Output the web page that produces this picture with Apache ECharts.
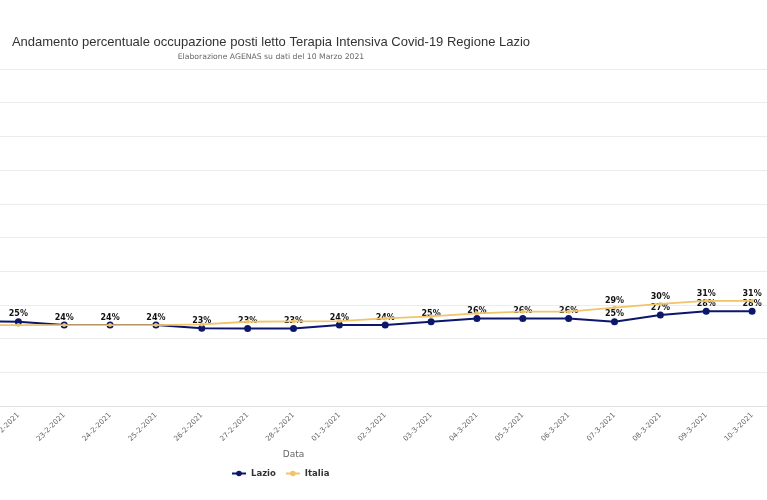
<!DOCTYPE html>
<html>
<head>
<meta charset="utf-8">
<script src="https://cdn.jsdelivr.net/npm/echarts@6/dist/echarts.min.js"></script>
<style>html,body{margin:0;padding:0;background:#fff}#c{width:767px;height:500px}</style>
</head>
<body>
<div id="c"></div>
<script>
const dates = ['18-2-2021','19-2-2021','20-2-2021','21-2-2021','22-2-2021','23-2-2021','24-2-2021','25-2-2021','26-2-2021','27-2-2021','28-2-2021','01-3-2021','02-3-2021','03-3-2021','04-3-2021','05-3-2021','06-3-2021','07-3-2021','08-3-2021','09-3-2021','10-3-2021'];
const lazio  = [26, 26, 25, 25.2, 25.0, 24.0, 24.0, 24.0, 23.1, 23.0, 23.0, 24.0, 24.0, 25.0, 26.0, 26.0, 26.0, 25.0, 27.0, 28.1, 28.1];
const italia = [24, 24, 24, 24.0, 24.0, 24.0, 24.0, 24.0, 24.2, 25.0, 25.1, 25.2, 26.0, 26.6, 27.5, 28.0, 28.0, 29.2, 30.3, 31.2, 31.2];
const yTicks = {min: 0, max: 100, interval: 10};
const titleText = 'Andamento percentuale occupazione posti letto Terapia Intensiva Covid-19 Regione Lazio';
const subText = 'Elaborazione AGENAS su dati del 10 Marzo 2021';

const FONT = 'DejaVu Sans';
const chart = echarts.init(document.getElementById('c'), null, {renderer: 'canvas'});
const italiaData = italia.map((v, i) => ({
  value: v,
  label: {show: (v - lazio[i]) >= 3}
}));
chart.setOption({
  animation: false,
  backgroundColor: '#fff',
  graphic: [{
    type: 'text', x: 271, y: 42,
    style: {text: titleText, textAlign: 'center', textVerticalAlign: 'middle',
      font: 'normal 13px "Liberation Sans"', fill: '#333'}
  }, {
    type: 'text', x: 271, y: 57,
    style: {text: subText, textAlign: 'center', textVerticalAlign: 'middle',
      font: 'normal 7.7px "DejaVu Sans"', fill: '#666'}
  }],
  legend: {
    bottom: 17, left: 226, itemGap: 9,
    textStyle: {fontFamily: FONT, fontSize: 8.5, fontWeight: 'bold', color: '#333'},
    itemWidth: 14, itemHeight: 7,
    data: ['Lazio', 'Italia']
  },
  grid: {left: -188, right: -8, top: 69, bottom: 94, containLabel: false, outerBoundsMode: 'none'},
  xAxis: {
    type: 'category', data: dates, boundaryGap: true,
    name: 'Data', nameLocation: 'middle', nameGap: 38,
    nameTextStyle: {fontFamily: FONT, fontSize: 9, color: '#666'},
    axisLine: {lineStyle: {color: '#e0e0e0', width: 1}},
    axisTick: {show: false},
    axisLabel: {rotate: 45, fontFamily: FONT, fontSize: 7.2, color: '#666', margin: 8, interval: 0}
  },
  yAxis: {
    type: 'value', min: yTicks.min, max: yTicks.max, interval: yTicks.interval,
    axisLabel: {show: false},
    splitLine: {lineStyle: {color: '#ececec', width: 1}},
    axisLine: {show: false}
  },
  series: [{
    name: 'Lazio', type: 'line', data: lazio,
    symbol: 'circle', symbolSize: 7, showAllSymbol: true,
    itemStyle: {color: '#0c176b'},
    lineStyle: {color: '#0c176b', width: 2},
    label: {show: true, position: 'top', distance: 0,
      formatter: p => Math.round(p.value) + '%',
      fontFamily: FONT, fontSize: 8, fontWeight: 'bold', color: '#111'},
    z: 2
  }, {
    name: 'Italia', type: 'line', data: italiaData,
    symbol: 'circle', symbolSize: 4, showAllSymbol: true,
    itemStyle: {color: '#f0c46a'},
    lineStyle: {color: '#f0c46a', width: 1.8},
    label: {position: 'top', distance: 1,
      formatter: p => Math.round(p.value) + '%',
      fontFamily: FONT, fontSize: 8, fontWeight: 'bold', color: '#111'},
    z: 3
  }]
});
</script>
</body>
</html>
